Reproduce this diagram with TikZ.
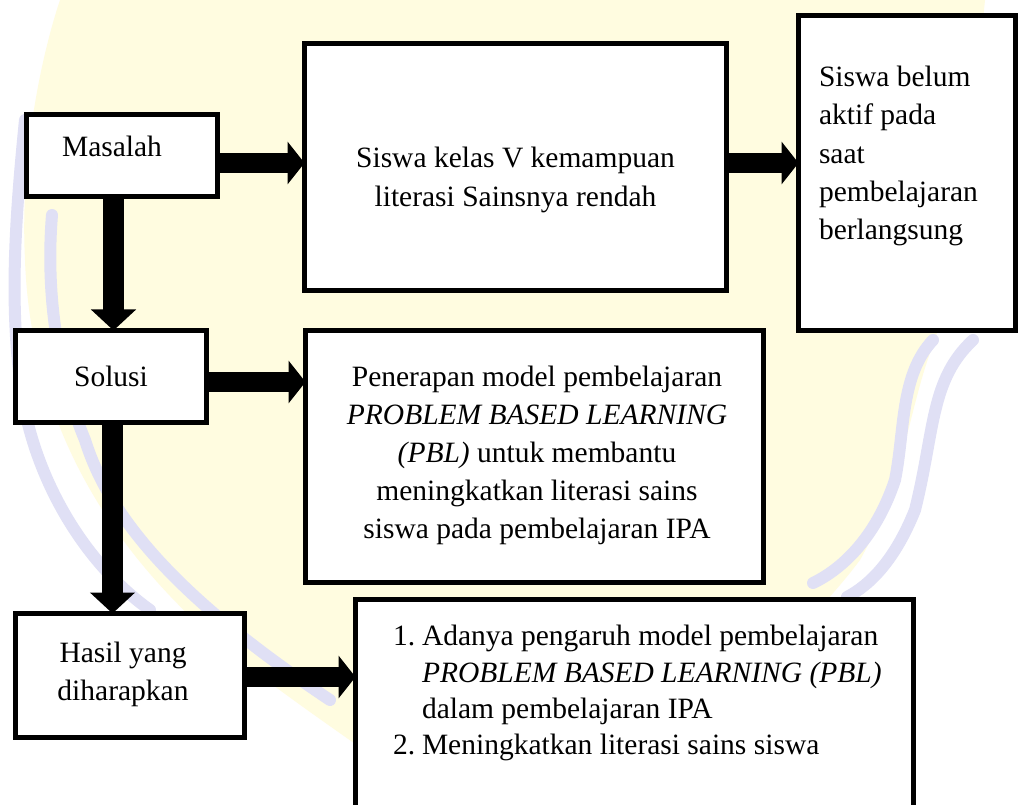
\documentclass[tikz,border=0pt]{standalone}
\usepackage{fontspec}
\setmainfont{Liberation Serif}
\usetikzlibrary{arrows.meta}
\definecolor{wmyellow}{HTML}{FFFCE0}
\definecolor{wmlav}{HTML}{E0E0F5}
\begin{document}
\begin{tikzpicture}[x=1pt,y=-1pt,
  box/.style={draw=black, line width=5pt, fill=white, inner sep=0pt, outer sep=0pt},
  txt/.style={inner sep=0pt, outer sep=0pt, font=\fontsize{29.5}{38}\selectfont},
  blk/.style={line width=20pt, -{Triangle[width=42pt,length=17pt]}},
  vblk/.style={line width=21pt, -{Triangle[width=44pt,length=21pt]}},
  wm/.style={draw=wmlav, line width=12pt, line cap=round}
]
\useasboundingbox (0,0) rectangle (1018,805);
\clip (0,0) rectangle (1018,805);
\fill[white] (0,0) rectangle (1018,805);
% watermark (faint background)
\fill[wmyellow] (60,0) .. controls (40,60) and (20,160) .. (25,260)
  .. controls (30,400) and (90,540) .. (240,660)
  .. controls (330,730) and (400,770) .. (430,805)
  -- (600,805) .. controls (700,720) and (800,640) .. (860,560)
  .. controls (905,480) and (910,400) .. (935,340)
  .. controls (960,250) and (975,100) .. (985,0) -- cycle;
\draw[wm] (25,120) .. controls (15,220) and (10,300) .. (20,380)
  .. controls (30,470) and (80,560) .. (150,610);
\draw[wm] (52,215) .. controls (45,300) and (60,380) .. (85,440)
  .. controls (110,520) and (180,600) .. (330,700);
\draw[wm] (933,340) .. controls (900,375) and (905,430) .. (895,480)
  .. controls (875,540) and (840,570) .. (813,583);
\draw[wm] (973,340) .. controls (930,380) and (935,430) .. (915,510)
  .. controls (895,560) and (870,585) .. (847,597);
% boxes
\node[box, minimum width=191pt, minimum height=82pt] (masalah) at (122,155.5) {};
\node[box, minimum width=422pt, minimum height=247pt] (kelas) at (515.5,167) {};
\node[box, minimum width=217pt, minimum height=315pt] (belum) at (907,173) {};
\node[box, minimum width=191pt, minimum height=92pt] (solusi) at (111,376.5) {};
\node[box, minimum width=458pt, minimum height=252pt] (penerapan) at (534.5,456.5) {};
\node[box, minimum width=229pt, minimum height=124pt] (hasil) at (130,675.5) {};
\node[box, minimum width=558pt, minimum height=250pt] (harapan) at (634.5,724.5) {};
% texts
\node[txt, anchor=base] (tmasalah) at (112,157) {Masalah};
\node[txt, anchor=base] (tkelas1) at (515.5,168) {Siswa kelas V kemampuan};
\node[txt, anchor=base] (tkelas2) at (515.5,207) {literasi Sainsnya rendah};
\node[txt, anchor=base west] (tbelum1) at (819,87) {Siswa belum};
\node[txt, anchor=base west] (tbelum2) at (819,125) {aktif pada};
\node[txt, anchor=base west] (tbelum3) at (819,164) {saat};
\node[txt, anchor=base west] (tbelum4) at (819,202) {pembelajaran};
\node[txt, anchor=base west] (tbelum5) at (819,240) {berlangsung};
\node[txt, anchor=base] (tsolusi) at (111,386) {Solusi};
\node[txt, anchor=base] (tpen1) at (537,386) {Penerapan model pembelajaran};
\node[txt, anchor=base] (tpen2) at (537,424) {\textit{PROBLEM BASED LEARNING}};
\node[txt, anchor=base] (tpen3) at (537,462) {\textit{(PBL)} untuk membantu};
\node[txt, anchor=base] (tpen4) at (537,500) {meningkatkan literasi sains};
\node[txt, anchor=base] (tpen5) at (537,538) {siswa pada pembelajaran IPA};
\node[txt, anchor=base] (thasil1) at (123,662) {Hasil yang};
\node[txt, anchor=base] (thasil2) at (123,700) {diharapkan};
\node[txt, anchor=base west] (tn1) at (393,645) {1.};
\node[txt, anchor=base west] (th1) at (422,645) {Adanya pengaruh model pembelajaran};
\node[txt, anchor=base west] (th2) at (422,682) {\textit{PROBLEM BASED LEARNING (PBL)}};
\node[txt, anchor=base west] (th3) at (422,718) {dalam pembelajaran IPA};
\node[txt, anchor=base west] (tn2) at (393,754) {2.};
\node[txt, anchor=base west] (th4) at (422,754) {Meningkatkan literasi sains siswa};
% connector reference coordinates
\coordinate (ya) at (0,163);
\coordinate (yb) at (0,382);
\coordinate (yc) at (0,677);
\coordinate (xa) at (113.5,0);
\coordinate (xb) at (112.5,0);
% arrows
\draw[blk] (masalah.east |- ya) -- (kelas.west |- ya);
\draw[blk] (kelas.east |- ya) -- (belum.west |- ya);
\draw[blk] (solusi.east |- yb) -- (penerapan.west |- yb);
\draw[blk] (hasil.east |- yc) -- (harapan.west |- yc);
\draw[vblk] (masalah.south -| xa) -- (solusi.north -| xa);
\draw[vblk] (solusi.south -| xb) -- (hasil.north -| xb);
\end{tikzpicture}
\end{document}
